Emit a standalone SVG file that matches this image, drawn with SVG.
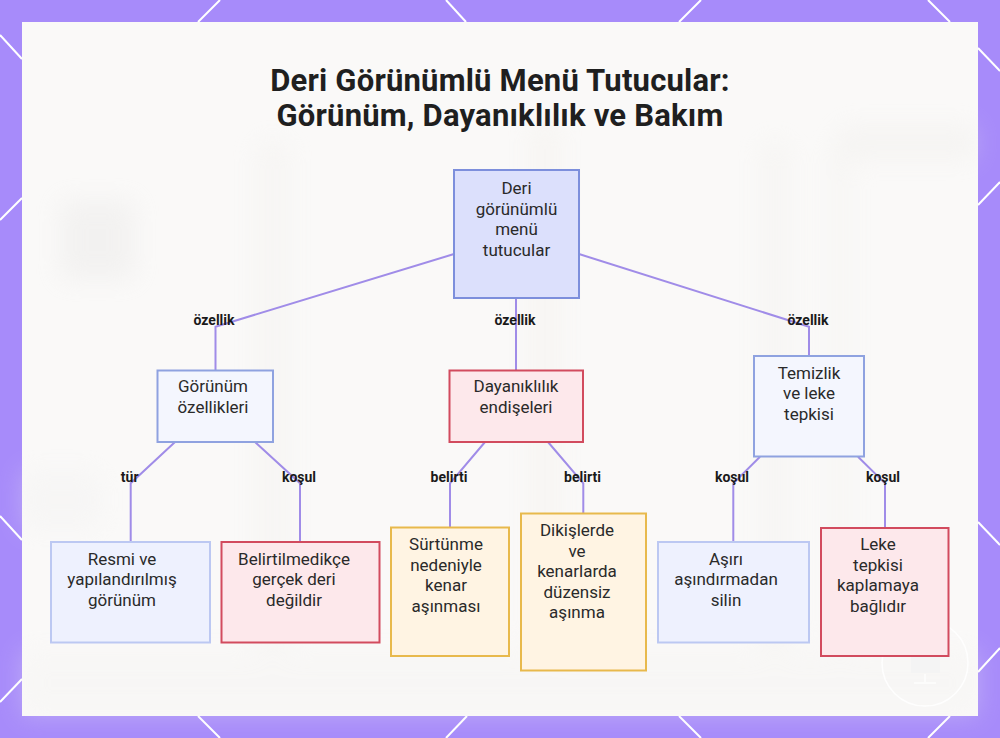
<svg xmlns="http://www.w3.org/2000/svg" width="1000" height="738" viewBox="0 0 1000 738">
  <defs>
    <filter id="blur" x="-50%" y="-50%" width="200%" height="200%">
      <feGaussianBlur stdDeviation="12"/>
    </filter>
    <style>
      .frame { stroke: #ffffff; stroke-width: 2; fill: none; }
      .edge { fill: none; stroke: #a08ce8; stroke-width: 2; }
      .elabel { font-family: Roboto, "Liberation Sans", sans-serif; font-size: 14px; font-weight: bold; fill: #1a1a1a; text-anchor: middle; }
      .ntext { font-family: Roboto, "Liberation Sans", sans-serif; font-size: 17px; fill: #2a2a2a; text-anchor: middle; }
      .title { font-family: Roboto, "Liberation Sans", sans-serif; font-size: 31px; font-weight: bold; fill: #1f1f1f; text-anchor: middle; letter-spacing: 0.2px; }
      .root { fill: #dce0fc; stroke: #7d8fdc; stroke-width: 2; }
      .blue2 { fill: #f4f6fe; stroke: #8fa2e0; stroke-width: 2; }
      .blue3 { fill: #eef1fe; stroke: #bcc8f2; stroke-width: 2; }
      .pink { fill: #fde8eb; stroke: #d24b5e; stroke-width: 2; }
      .orange { fill: #fff4e3; stroke: #e8b94c; stroke-width: 2; }
    </style>
  </defs>

  <!-- background border -->
  <rect x="0" y="0" width="1000" height="738" fill="#a78bfa"/>
  <g class="frame">
    <line x1="198" y1="22" x2="220" y2="0"/>
    <line x1="446" y1="0" x2="466" y2="22"/>
    <line x1="679" y1="22" x2="701" y2="0"/>
    <line x1="928" y1="0" x2="950" y2="22"/>
    <line x1="198" y1="716" x2="220" y2="738"/>
    <line x1="467" y1="716" x2="446" y2="738"/>
    <line x1="679" y1="716" x2="701" y2="738"/>
    <line x1="950" y1="716" x2="928" y2="738"/>
    <line x1="0" y1="35" x2="22" y2="59"/>
    <line x1="0" y1="220" x2="22" y2="198"/>
    <line x1="0" y1="516" x2="22" y2="540"/>
    <line x1="0" y1="702" x2="22" y2="679"/>
    <line x1="978" y1="48" x2="1000" y2="71"/>
    <line x1="978" y1="205" x2="1000" y2="182"/>
    <line x1="978" y1="522" x2="1000" y2="545"/>
    <line x1="978" y1="672" x2="1000" y2="648"/>
  </g>

  <!-- panel -->
  <rect x="22" y="22" width="956" height="694" fill="#faf9f8"/>

  <!-- faint blurred background photo -->
  <g filter="url(#blur)" opacity="0.3">
    <rect x="60" y="200" width="75" height="80" fill="#e2e1e0"/>
    <rect x="255" y="140" width="35" height="560" fill="#efedea"/>
    <rect x="530" y="120" width="30" height="580" fill="#f0ece6"/>
    <rect x="760" y="140" width="30" height="560" fill="#efede9"/>
    <rect x="830" y="140" width="20" height="560" fill="#efede9"/>
    <rect x="840" y="125" width="135" height="35" fill="#ebe9e6"/>
    <rect x="22" y="470" width="80" height="60" fill="#efefef"/>
    <rect x="22" y="650" width="956" height="66" fill="#f3f2f0"/>
  </g>

  <!-- watermark -->
  <g opacity="0.9">
    <circle cx="925" cy="663" r="43" fill="none" stroke="#ffffff" stroke-width="1.5"/>
    <rect x="911" y="635" width="29" height="38" fill="#f4f4f4"/>
    <line x1="925" y1="674" x2="925" y2="682" stroke="#ffffff" stroke-width="1.5"/>
    <line x1="914" y1="683" x2="936" y2="683" stroke="#ffffff" stroke-width="1.5"/>
  </g>

  <!-- title -->
  <text class="title" x="500" y="91">Deri Görünümlü Menü Tutucular:</text>
  <text class="title" x="500" y="126">Görünüm, Dayanıklılık ve Bakım</text>

  <!-- connectors -->
  <g id="connectors">
    <polyline class="edge" points="454,254 215.5,326.7 215.5,370"/>
    <polyline class="edge" points="516,298 516,370"/>
    <polyline class="edge" points="579,254 809,326.7 809,356"/>
    <polyline class="edge" points="175,442 130.7,483.3 130.7,541"/>
    <polyline class="edge" points="255,442 300,483.3 300,541"/>
    <polyline class="edge" points="485,442 450,483.3 450,527"/>
    <polyline class="edge" points="548,442 583.3,483.3 583.3,513"/>
    <polyline class="edge" points="760,456.7 733.3,483.3 733.3,541"/>
    <polyline class="edge" points="858,456.7 885,483.3 885,527"/>
    <text class="elabel" x="214" y="325">özellik</text>
    <text class="elabel" x="515" y="325">özellik</text>
    <text class="elabel" x="808" y="325">özellik</text>
    <text class="elabel" x="129.7" y="482">tür</text>
    <text class="elabel" x="299" y="482">koşul</text>
    <text class="elabel" x="449" y="482">belirti</text>
    <text class="elabel" x="582.5" y="482">belirti</text>
    <text class="elabel" x="732" y="482">koşul</text>
    <text class="elabel" x="883" y="482">koşul</text>
  </g>

  <!-- nodes -->
  <g id="root">
    <rect class="root" x="454" y="170" width="125" height="128"/>
    <text class="ntext" x="516.5" y="194">Deri</text>
    <text class="ntext" x="516.5" y="214.6">görünümlü</text>
    <text class="ntext" x="516.5" y="235.2">menü</text>
    <text class="ntext" x="516.5" y="255.8">tutucular</text>
  </g>

  <g id="gorunum">
    <rect class="blue2" x="157.5" y="370.5" width="115.5" height="71.5"/>
    <text class="ntext" x="213" y="392">Görünüm</text>
    <text class="ntext" x="213" y="413">özellikleri</text>
  </g>

  <g id="dayaniklilik">
    <rect class="pink" x="449.5" y="370.5" width="133.5" height="71.5"/>
    <text class="ntext" x="516" y="392">Dayanıklılık</text>
    <text class="ntext" x="516" y="413">endişeleri</text>
  </g>

  <g id="temizlik">
    <rect class="blue2" x="754" y="356" width="110" height="100.5"/>
    <text class="ntext" x="809" y="378.5">Temizlik</text>
    <text class="ntext" x="809" y="399">ve leke</text>
    <text class="ntext" x="809" y="419.7">tepkisi</text>
  </g>

  <g id="resmi">
    <rect class="blue3" x="51" y="542" width="159" height="100.5"/>
    <text class="ntext" x="122" y="564.5">Resmi ve</text>
    <text class="ntext" x="122" y="585">yapılandırılmış</text>
    <text class="ntext" x="122" y="605.7">görünüm</text>
  </g>

  <g id="belirtilmedikce">
    <rect class="pink" x="221.5" y="542" width="158" height="100.5"/>
    <text class="ntext" x="294" y="564.5">Belirtilmedikçe</text>
    <text class="ntext" x="294" y="585">gerçek deri</text>
    <text class="ntext" x="294" y="605.7">değildir</text>
  </g>

  <g id="surtunme">
    <rect class="orange" x="391" y="527.5" width="118" height="128.5"/>
    <text class="ntext" x="446" y="550">Sürtünme</text>
    <text class="ntext" x="446" y="570.6">nedeniyle</text>
    <text class="ntext" x="446" y="591.2">kenar</text>
    <text class="ntext" x="446" y="611.8">aşınması</text>
  </g>

  <g id="dikislerde">
    <rect class="orange" x="521" y="513.5" width="125" height="157"/>
    <text class="ntext" x="577" y="536">Dikişlerde</text>
    <text class="ntext" x="577" y="556.6">ve</text>
    <text class="ntext" x="577" y="577.2">kenarlarda</text>
    <text class="ntext" x="577" y="597.8">düzensiz</text>
    <text class="ntext" x="577" y="618.4">aşınma</text>
  </g>

  <g id="asiri">
    <rect class="blue3" x="658" y="542" width="151" height="100.5"/>
    <text class="ntext" x="726" y="565">Aşırı</text>
    <text class="ntext" x="726" y="585.3">aşındırmadan</text>
    <text class="ntext" x="726" y="605.6">silin</text>
  </g>

  <g id="leke">
    <rect class="pink" x="821" y="528" width="127.5" height="128"/>
    <text class="ntext" x="878" y="550">Leke</text>
    <text class="ntext" x="878" y="570.6">tepkisi</text>
    <text class="ntext" x="878" y="591.2">kaplamaya</text>
    <text class="ntext" x="878" y="611.8">bağlıdır</text>
  </g>
</svg>
